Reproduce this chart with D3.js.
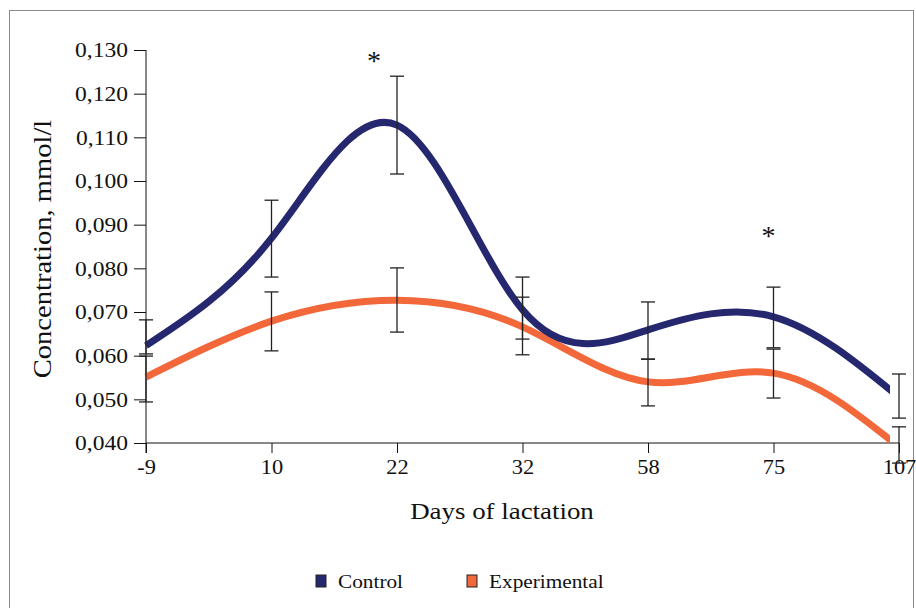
<!DOCTYPE html>
<html>
<head>
<meta charset="utf-8">
<script src="https://cdn.jsdelivr.net/npm/d3@7"></script>
<style>
  body { margin: 0; background: #fff; }
  svg text { font-family: "Liberation Serif", "Times New Roman", serif; fill: #111; }
</style>
</head>
<body>
<div id="chart"></div>
<script>
const width = 916;
const height = 608;

const days = ["-9", "10", "22", "32", "58", "75", "107"];
const yTicks = [0.04, 0.05, 0.06, 0.07, 0.08, 0.09, 0.10, 0.11, 0.12, 0.13];

const control = [0.0623, 0.0869, 0.1128, 0.0705, 0.0659, 0.0689, 0.0505];
const controlLow = [0.0604, 0.0780, 0.1016, 0.0602, 0.0592, 0.0618, 0.0457];
const controlHigh = [0.0682, 0.0956, 0.1240, 0.0780, 0.0723, 0.0757, 0.0558];

const experimental = [0.0551, 0.0679, 0.0727, 0.0666, 0.0540, 0.0560, 0.0391];
const expLow = [0.0494, 0.0611, 0.0654, 0.0638, 0.0485, 0.0503, 0.0354];
const expHigh = [0.0599, 0.0746, 0.0801, 0.0734, 0.0592, 0.0615, 0.0437];

// significance marks: day, height in data units, horizontal nudge
const starDays = ["22", "75"];
const starValues = [0.1254, 0.0853];
const starNudge = [-23, -5];

const colors = { control: "#25286f", experimental: "#f2683a" };

const svg = d3.select("#chart")
  .append("svg")
  .attr("width", width)
  .attr("height", height);

// the original type is a bit wider than Times, stretch it horizontally
function stretch(sel, k) {
  sel.each(function () {
    const w = this.getComputedTextLength();
    d3.select(this).attr("textLength", w * k).attr("lengthAdjust", "spacingAndGlyphs");
  });
}

// outer frame
svg.append("rect")
  .attr("x", 9.5).attr("y", 10.5)
  .attr("width", 904).attr("height", 620)
  .attr("fill", "none")
  .attr("stroke", "#8a8a8a");

const x = d3.scalePoint().domain(days).range([146, 899]);
const y = d3.scaleLinear().domain([0.04, 0.13]).range([443, 50]);

const fmt = v => d3.format(".3f")(v).replace(".", ",");

// y axis
const yAxis = svg.append("g")
  .attr("transform", "translate(146,0)")
  .call(d3.axisLeft(y).tickValues(yTicks).tickFormat(fmt).tickSize(12).tickPadding(6));
yAxis.select(".domain").attr("d", "M0,50V453");
yAxis.selectAll("text").style("font-size", "21px").attr("fill", "#111").call(stretch, 1.12);

// x axis
const xAxis = svg.append("g")
  .attr("transform", "translate(0,443)")
  .call(d3.axisBottom(x).tickSize(10).tickPadding(7));
xAxis.select(".domain").attr("d", "M146,0H899");
xAxis.selectAll("text").style("font-size", "20px").attr("fill", "#111").call(stretch, 1.12);
svg.selectAll(".domain, .tick line").attr("stroke", "#111");

// axis titles
svg.append("text")
  .attr("x", 502).attr("y", 519)
  .attr("text-anchor", "middle")
  .style("font-size", "24px")
  .text("Days of lactation")
  .call(stretch, 1.12);

svg.append("text")
  .attr("transform", "translate(51,249) rotate(-90)")
  .attr("text-anchor", "middle")
  .style("font-size", "25.5px")
  .text("Concentration, mmol/l")
  .call(stretch, 1.12);

// clip lines like the original (they stop a little short of the last day)
svg.append("clipPath").attr("id", "plot-clip")
  .append("rect").attr("x", 140).attr("y", 40).attr("width", 750).attr("height", 420);

const line = d3.line()
  .x((d, i) => x(days[i]))
  .y(d => y(d))
  .curve(d3.curveNatural);

const series = [
  { name: "Experimental", values: experimental, color: colors.experimental },
  { name: "Control", values: control, color: colors.control }
];

svg.append("g").attr("clip-path", "url(#plot-clip)")
  .selectAll("path")
  .data(series)
  .enter()
  .append("path")
  .attr("d", d => line(d.values))
  .attr("fill", "none")
  .attr("stroke", d => d.color)
  .attr("stroke-width", 7);

// error bars
const bars = [];
days.forEach((d, i) => {
  bars.push({ day: d, lo: controlLow[i], hi: controlHigh[i] });
  bars.push({ day: d, lo: expLow[i], hi: expHigh[i] });
});

const eb = svg.append("g")
  .attr("stroke", "#222")
  .attr("stroke-width", 1.3);

eb.selectAll("line.v")
  .data(bars)
  .enter()
  .append("line")
  .attr("x1", d => x(d.day)).attr("x2", d => x(d.day))
  .attr("y1", d => y(d.lo)).attr("y2", d => y(d.hi));

const capW = 7;
eb.selectAll("line.top")
  .data(bars)
  .enter()
  .append("line")
  .attr("x1", d => x(d.day) - capW).attr("x2", d => x(d.day) + capW)
  .attr("y1", d => y(d.hi)).attr("y2", d => y(d.hi));

eb.selectAll("line.bottom")
  .data(bars)
  .enter()
  .append("line")
  .attr("x1", d => x(d.day) - capW).attr("x2", d => x(d.day) + capW)
  .attr("y1", d => y(d.lo)).attr("y2", d => y(d.lo));

// asterisks
svg.selectAll("text.star")
  .data(starDays)
  .enter()
  .append("text")
  .attr("class", "star")
  .attr("x", (d, i) => x(d) + starNudge[i])
  .attr("y", (d, i) => y(starValues[i]))
  .attr("text-anchor", "middle")
  .style("font-size", "28px")
  .text("*");

// legend
const legendItems = [
  { name: "Control", color: colors.control, x: 316 },
  { name: "Experimental", color: colors.experimental, x: 467 }
];
const legend = svg.selectAll("g.legend")
  .data(legendItems)
  .enter()
  .append("g")
  .attr("transform", d => `translate(${d.x},0)`);

legend.append("rect")
  .attr("x", 0).attr("y", 575)
  .attr("width", 10).attr("height", 12)
  .attr("fill", d => d.color)
  .attr("stroke", "#222")
  .attr("stroke-width", 1);

legend.append("text")
  .attr("x", 22).attr("y", 588)
  .style("font-size", "19px")
  .text(d => d.name)
  .call(stretch, 1.12);
</script>
</body>
</html>
